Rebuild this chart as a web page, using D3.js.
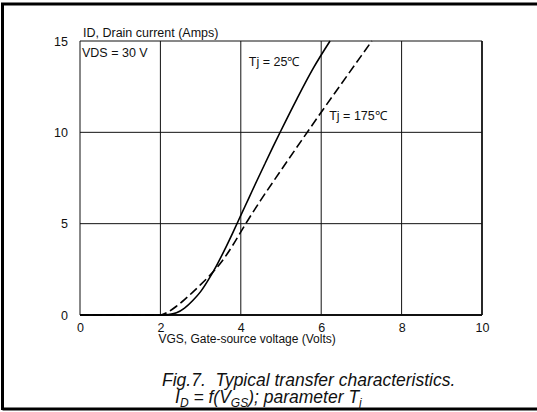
<!DOCTYPE html>
<html>
<head>
<meta charset="utf-8">
<script src="https://cdn.jsdelivr.net/npm/d3@7/dist/d3.min.js"></script>
<style>
  body { margin: 0; background: #fff; }
  svg text { font-family: "Liberation Sans", Arial, sans-serif; fill: #111; }
</style>
</head>
<body>
<div id="chart"></div>
<script>
/* data */
var xTicks = [0, 2, 4, 6, 8, 10],
    yTicks = [0, 5, 10, 15],
    // Tj = 25 C, solid
    vgs25 = [0, 2.0, 2.2, 2.4, 2.6, 2.8, 3.0, 3.2, 3.4, 3.6, 3.8, 4.0, 4.2, 4.4, 4.6, 4.8, 5.0, 5.4, 5.8, 6.22],
    id25 = [0, 0, 0.02, 0.12, 0.38, 0.78, 1.28, 1.95, 2.72, 3.58, 4.5, 5.45, 6.4, 7.35, 8.28, 9.2, 10.1, 11.85, 13.5, 15],
    // Tj = 175 C, dashed
    vgs175 = [0, 2.0, 2.2, 2.4, 2.6, 2.8, 3.0, 3.2, 3.4, 3.6, 3.8, 4.0, 4.2, 4.5, 5.0, 5.5, 6.0, 6.5, 7.0, 7.26],
    id175 = [0, 0, 0.18, 0.48, 0.84, 1.24, 1.66, 2.1, 2.58, 3.15, 3.82, 4.55, 5.27, 6.3, 7.92, 9.52, 11.1, 12.65, 14.2, 15],
    labels = {
        yTitle: "ID, Drain current (Amps)",
        xTitle: "VGS, Gate-source voltage (Volts)",
        vds: "VDS = 30 V",
        t25: "Tj = 25\u2103",
        t175: "Tj = 175\u2103"
    };

/* layout */
var width = 537,
    height = 412,
    margin = { top: 41, right: 55, bottom: 97, left: 80 },
    innerWidth = width - margin.left - margin.right,
    innerHeight = height - margin.top - margin.bottom;

var svg = d3.select("#chart")
    .append("svg")
    .attr("width", width)
    .attr("height", height);

// page frame (left, top, bottom)
svg.append("path")
    .attr("d", "M2.5,410 L2.5,4 L537,4 M2.5,409 L537,409")
    .attr("fill", "none")
    .attr("stroke", "#000")
    .attr("stroke-width", 3);

var main = svg.append("g")
    .attr("transform", "translate(" + margin.left + "," + margin.top + ")");

/* scales */
var x = d3.scaleLinear().domain([0, 10]).range([0, innerWidth]),
    y = d3.scaleLinear().domain([0, 15]).range([innerHeight, 0]);

/* grid */
var grid = main.append("g").attr("class", "grid");
grid.selectAll("line.v")
    .data(xTicks)
    .enter().append("line")
    .attr("x1", d => x(d)).attr("x2", d => x(d))
    .attr("y1", 0).attr("y2", innerHeight)
    .attr("stroke", "#111")
    .attr("stroke-width", d => d === 10 ? 1.8 : 1);
grid.selectAll("line.h")
    .data(yTicks)
    .enter().append("line")
    .attr("x1", 0).attr("x2", innerWidth)
    .attr("y1", d => y(d)).attr("y2", d => y(d))
    .attr("stroke", "#111")
    .attr("stroke-width", d => d === 0 ? 1.8 : 1);

/* axes (labels only) */
var xAxis = main.append("g")
    .attr("transform", "translate(0," + innerHeight + ")")
    .call(d3.axisBottom(x).tickValues(xTicks).tickSize(0).tickPadding(8));
var yAxis = main.append("g")
    .call(d3.axisLeft(y).tickValues(yTicks).tickSize(0).tickPadding(12));
[xAxis, yAxis].forEach(function (a) {
    a.select(".domain").remove();
    a.selectAll("text")
        .style("font-family", "'Liberation Sans', Arial, sans-serif")
        .style("font-size", "12.5px")
        .attr("fill", "#111");
});

/* curves */
var line = d3.line()
    .x(d => x(d[0]))
    .y(d => y(d[1]))
    .curve(d3.curveMonotoneX);

var curves = main.append("g").attr("class", "curves");
curves.append("path")
    .datum(d3.zip(vgs25, id25))
    .attr("d", line)
    .attr("fill", "none")
    .attr("stroke", "#000")
    .attr("stroke-width", 1.6);
curves.append("path")
    .datum(d3.zip(vgs175, id175))
    .attr("d", line)
    .attr("fill", "none")
    .attr("stroke", "#000")
    .attr("stroke-width", 1.6)
    .attr("stroke-dasharray", "9,4");

/* text */
main.append("text")
    .attr("x", 3).attr("y", -4)
    .style("font-size", "12.5px")
    .text(labels.yTitle);
main.append("text")
    .attr("x", 2).attr("y", 16)
    .style("font-size", "12.5px")
    .text(labels.vds);
main.append("text")
    .attr("x", x(4.2)).attr("y", y(13.65))
    .style("font-size", "12.5px")
    .text(labels.t25);
main.append("text")
    .attr("x", x(6.2)).attr("y", y(10.65))
    .style("font-size", "12.5px")
    .text(labels.t175);
main.append("text")
    .attr("x", x(1.95)).attr("y", innerHeight + 28)
    .style("font-size", "12px")
    .text(labels.xTitle);

/* caption */
var cap = svg.append("g")
    .attr("font-style", "italic")
    .style("font-size", "17.5px");
cap.append("text")
    .attr("x", 162).attr("y", 386)
    .attr("xml:space", "preserve")
    .text("Fig.7.  Typical transfer characteristics.");
var cap2 = cap.append("text")
    .attr("x", 175).attr("y", 403);
cap2.append("tspan").text("I");
cap2.append("tspan").attr("dy", 4).style("font-size", "12px").text("D");
cap2.append("tspan").attr("dy", -4).text(" = f(V");
cap2.append("tspan").attr("dy", 4).style("font-size", "12px").text("GS");
cap2.append("tspan").attr("dy", -4).text("); parameter T");
cap2.append("tspan").attr("dy", 4).style("font-size", "12px").text("j");
</script>
</body>
</html>
